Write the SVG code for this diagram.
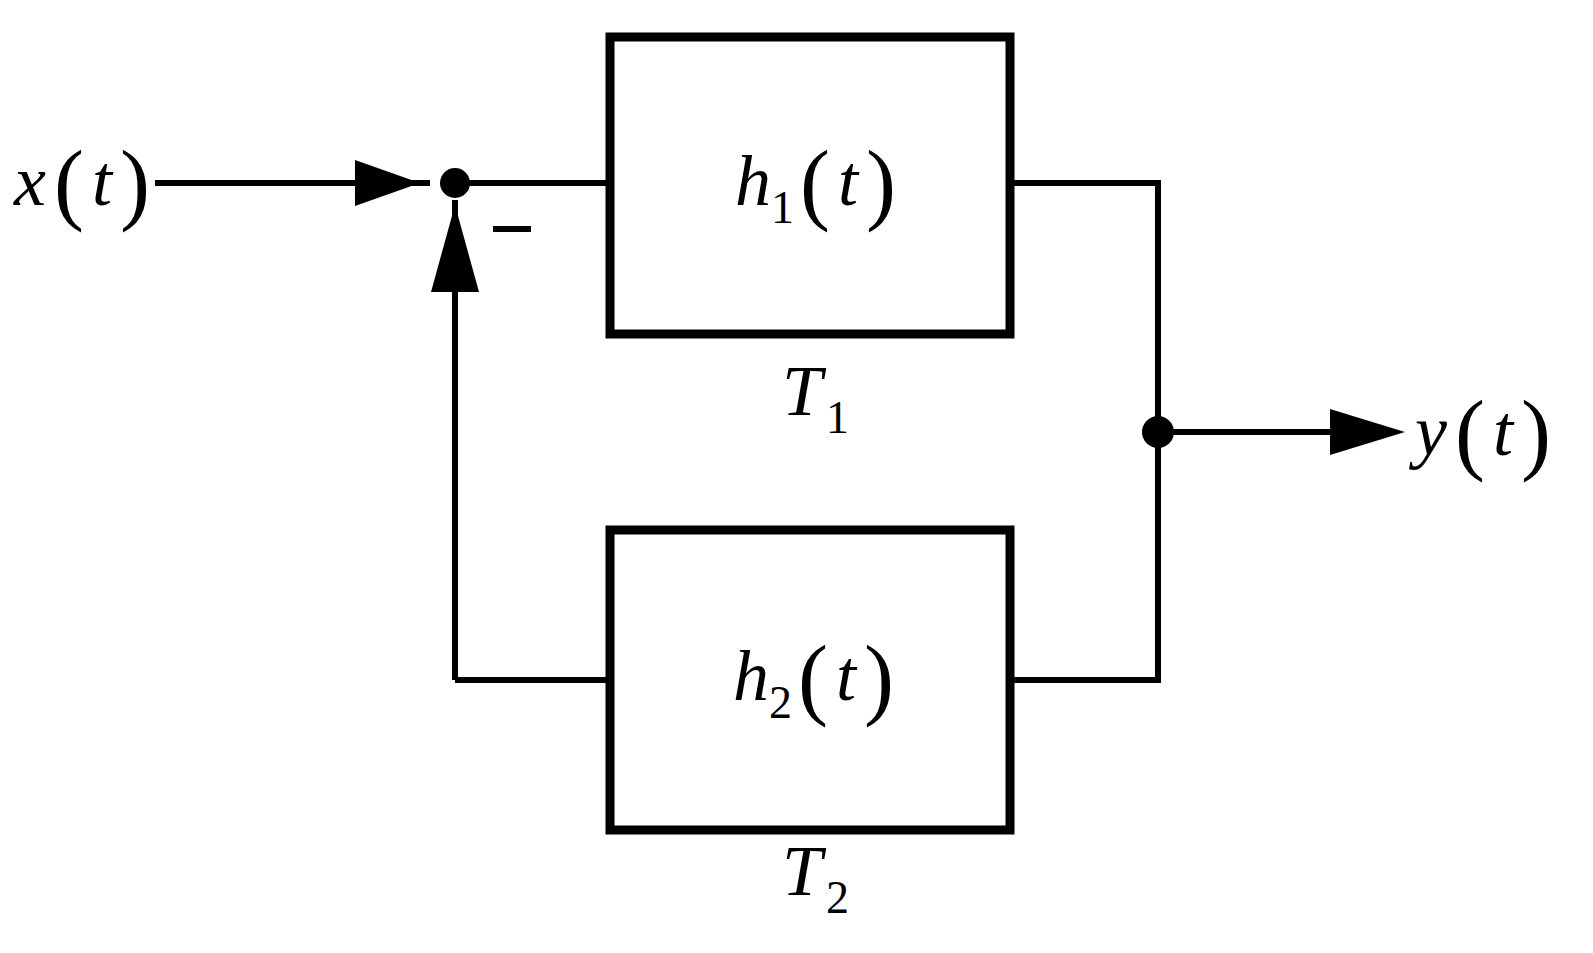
<svg xmlns="http://www.w3.org/2000/svg" width="1593" height="953" viewBox="0 0 1593 953">
<style>
.b{fill:none;stroke:#000;stroke-width:9}
.l{fill:none;stroke:#000;stroke-width:6}
text{font-family:"Liberation Serif",serif;font-size:72px;fill:#000}
.i{font-style:italic}
.s{font-size:46px}
.p{font-size:90px}
</style>
<rect width="1593" height="953" fill="#fff"/>
<g id="connectors">
<path class="l" d="M155 183H430M455 183H610M455 680V200M455 680H610M1010 183H1158V680H1010M1158 432H1340"/>
<polygon points="355,160 420,183 355,206"/>
<polygon points="431,292 455,205 479,292"/>
<polygon points="1330,409 1405,432 1330,455"/>
<circle cx="455" cy="183" r="15"/>
<circle cx="1158" cy="432" r="16"/>
<path class="l" d="M493 229H531"/>
</g>
<g id="box1"><rect class="b" x="610" y="37" width="400" height="297"/>
<text x="735" y="205"><tspan class="i">h</tspan><tspan class="s" dy="18">1</tspan><tspan class="p" dx="6" dy="-10">(</tspan><tspan class="i" dx="8" dy="-8">t</tspan><tspan class="p" dx="8" dy="8">)</tspan></text></g>
<g id="box2"><rect class="b" x="610" y="530" width="400" height="300"/>
<text x="733" y="700"><tspan class="i">h</tspan><tspan class="s" dy="18">2</tspan><tspan class="p" dx="6" dy="-10">(</tspan><tspan class="i" dx="8" dy="-8">t</tspan><tspan class="p" dx="8" dy="8">)</tspan></text></g>
<g id="labels">
<text x="782" y="415"><tspan class="i">T</tspan><tspan class="s" dx="4" dy="18">1</tspan></text>
<text x="782" y="895"><tspan class="i">T</tspan><tspan class="s" dx="4" dy="18">2</tspan></text>
<text x="14" y="205"><tspan class="i">x</tspan><tspan class="p" dx="8" dy="8">(</tspan><tspan class="i" dx="8" dy="-8">t</tspan><tspan class="p" dx="8" dy="8">)</tspan></text>
<text x="1415" y="455"><tspan class="i">y</tspan><tspan class="p" dx="8" dy="8">(</tspan><tspan class="i" dx="8" dy="-8">t</tspan><tspan class="p" dx="8" dy="8">)</tspan></text>
</g>
</svg>
